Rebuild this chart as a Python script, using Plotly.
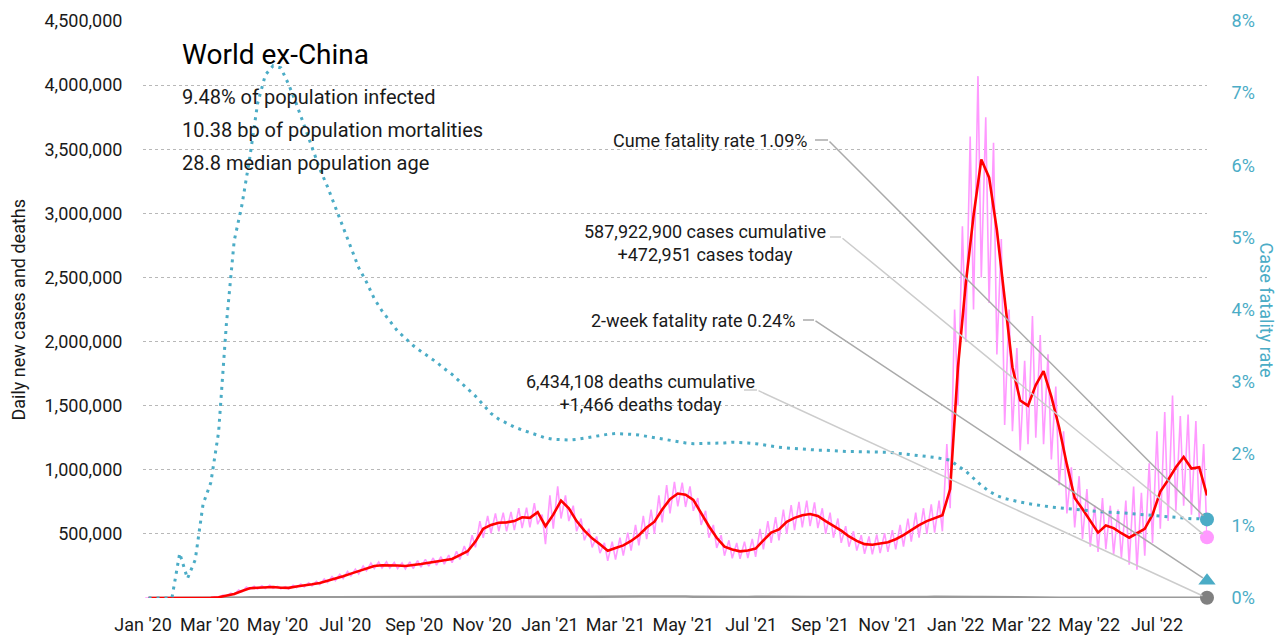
import pandas as pd
import plotly.graph_objects as go

# ---------------- data ----------------
week_start = "2020-01-06"
n_weeks = 137

# 7-day average of daily new cases, thousands (one value per week)
cases_avg_k = [
    0, 0, 0, 0, 0, 0, 0, 0, 2, 6, 17, 32, 55, 76, 80, 85,
    86, 80, 79, 90, 97, 107, 117, 133, 152, 170, 190, 208, 232, 250, 256, 257,
    253, 250, 255, 265, 275, 283, 295, 304, 335, 365, 440, 540, 570, 587, 590, 600,
    630, 625, 670, 560, 650, 760, 700, 600, 525, 465, 420, 368, 390, 410, 445, 490,
    550, 595, 690, 770, 815, 805, 765, 660, 560, 470, 400, 378, 364, 370, 385, 450,
    510, 535, 595, 625, 645, 655, 640, 600, 565, 525, 480, 445, 420, 415, 425, 435,
    458, 490, 530, 569, 600, 624, 645, 850, 1800, 2450, 2980, 3420, 3280, 2870, 2330, 1800,
    1540, 1500, 1660, 1770, 1570, 1330, 1040, 780, 694, 600, 510, 565, 545, 505, 470, 505,
    540, 650, 830, 920, 1020, 1100, 1010, 1020, 800,
]

# raw daily new cases: weekly high (mid-week) and low (week end), thousands
cases_hi_k = [
    0, 0, 0, 0, 0, 0, 0, 0, 3, 8, 22, 38, 62, 85, 92, 95,
    100, 90, 88, 100, 108, 118, 130, 148, 168, 185, 208, 225, 250, 272, 280, 282,
    278, 274, 282, 292, 302, 312, 322, 335, 365, 405, 490, 600, 640, 660, 665, 672,
    700, 705, 740, 650, 800, 870, 800, 720, 620, 540, 480, 430, 440, 470, 510, 570,
    640, 690, 800, 880, 905, 900, 870, 780, 680, 570, 490, 450, 430, 440, 460, 540,
    600, 630, 690, 725, 750, 760, 745, 700, 665, 620, 560, 520, 490, 480, 495, 505,
    530, 570, 620, 665, 700, 730, 760, 1200, 2250, 2900, 3600, 4070, 3750, 3550, 2800, 2250,
    1950, 1850, 2200, 2050, 1900, 1650, 1300, 1020, 950, 850, 720, 780, 720, 690, 760, 870,
    820, 1050, 1300, 1450, 1580, 1420, 1430, 1380, 1200,
]
cases_lo_k = [
    0, 0, 0, 0, 0, 0, 0, 0, 1, 4, 14, 27, 48, 68, 70, 75,
    76, 72, 70, 80, 86, 95, 104, 120, 136, 152, 172, 188, 212, 230, 234, 234,
    230, 226, 230, 240, 248, 256, 264, 275, 300, 330, 395, 470, 505, 520, 520, 530,
    545, 550, 575, 420, 540, 620, 600, 520, 450, 395, 350, 290, 300, 330, 370, 410,
    460, 500, 590, 660, 715, 710, 680, 570, 470, 390, 330, 310, 305, 312, 320, 380,
    430, 450, 500, 530, 550, 560, 545, 500, 470, 430, 400, 370, 345, 340, 350, 360,
    380, 400, 440, 470, 500, 510, 520, 700, 1500, 2000, 2250, 2500, 2300, 1900, 1350, 1300,
    1150, 1200, 1250, 1200, 1080, 880, 660, 550, 460, 400, 360, 380, 340, 310, 260, 220,
    330, 430, 540, 600, 680, 720, 650, 620, 473,
]

# daily deaths (7-day average), thousands
deaths_k = [
    0, 0, 0, 0, 0, 0, 0, 0, 0.05, 0.3, 1.0, 2.5, 4.5, 6.0, 6.5, 6.2,
    5.5, 5.0, 4.6, 4.4, 4.2, 4.3, 4.6, 4.9, 5.1, 5.4, 5.5, 5.8, 6.0, 6.0, 5.9, 5.8,
    5.5, 5.4, 5.3, 5.3, 5.5, 5.6, 5.8, 6.2, 7.0, 8.3, 9.5, 10.5, 11.2, 11.5, 11.5, 11.8,
    12.0, 11.5, 12.5, 13.5, 14.5, 14.0, 13.0, 12.0, 10.5, 9.5, 9.0, 8.8, 9.0, 9.8, 10.8, 11.8,
    12.5, 13.2, 13.8, 13.5, 12.5, 11.5, 10.5, 9.5, 9.0, 8.5, 8.0, 7.8, 8.0, 8.5, 9.3, 9.8,
    10.0, 10.2, 10.0, 9.5, 8.8, 8.0, 7.5, 7.2, 7.0, 7.0, 7.0, 7.2, 7.3, 7.2, 7.0, 6.8,
    6.5, 6.3, 6.5, 7.0, 8.0, 9.0, 10.0, 10.5, 10.2, 9.5, 8.5, 7.5, 6.5, 5.5, 4.8, 4.2,
    3.7, 3.4, 3.0, 2.8, 2.6, 2.4, 2.3, 2.2, 2.0, 1.9, 1.9, 2.0, 2.1, 2.2, 2.3, 2.4,
    2.4, 2.3, 2.2, 2.1, 2.1, 2.0, 2.0, 1.9, 1.5,
]

# cumulative case fatality rate, percent
cfr_pct = [
    0, 0, 0, 0, 0.62, 0.27, 0.53, 1.3, 1.6, 2.3, 3.8, 4.95, 5.45, 6.1, 6.85, 7.25,
    7.38, 7.35, 7.12, 6.85, 6.55, 6.25, 5.95, 5.7, 5.42, 5.15, 4.88, 4.58, 4.38, 4.15, 3.98, 3.84,
    3.7, 3.6, 3.5, 3.42, 3.35, 3.27, 3.18, 3.1, 3.0, 2.9, 2.8, 2.68, 2.56, 2.48, 2.42, 2.37,
    2.33, 2.29, 2.25, 2.22, 2.2, 2.19, 2.19, 2.2, 2.22, 2.24, 2.26, 2.27, 2.28, 2.28, 2.27, 2.26,
    2.24, 2.22, 2.2, 2.18, 2.16, 2.15, 2.14, 2.14, 2.14, 2.15, 2.15, 2.16, 2.16, 2.15, 2.14, 2.12,
    2.1, 2.09, 2.08, 2.07, 2.06, 2.06, 2.05, 2.05, 2.04, 2.04, 2.03, 2.03, 2.03, 2.02, 2.02, 2.02,
    2.01, 2.0, 1.99, 1.98, 1.97, 1.95, 1.93, 1.91, 1.83, 1.76, 1.66, 1.56, 1.48, 1.42, 1.38, 1.35,
    1.33, 1.31, 1.29, 1.28, 1.26, 1.25, 1.24, 1.23, 1.22, 1.21, 1.2, 1.19, 1.19, 1.18, 1.18, 1.17,
    1.16, 1.15, 1.14, 1.13, 1.12, 1.11, 1.1, 1.1, 1.09,
]

# latest-day figures
cume_cfr = 0.0109
two_week_cfr = 0.0024
cases_today = 472951
deaths_today = 1466
cases_cum = "587,922,900"
deaths_cum = "6,434,108"

title_text = "World ex-China"
sub_lines = ["9.48% of population infected",
             "10.38 bp of population mortalities",
             "28.8 median population age"]

left_ticks = [500000, 1000000, 1500000, 2000000, 2500000, 3000000, 3500000, 4000000, 4500000]
right_ticks = [0, 0.01, 0.02, 0.03, 0.04, 0.05, 0.06, 0.07, 0.08]

for arr in (cases_avg_k, cases_hi_k, cases_lo_k, deaths_k, cfr_pct):
    assert len(arr) == n_weeks, len(arr)

# ---------------- build series ----------------
weeks = pd.date_range(week_start, periods=n_weeks, freq="7D")
end_date = weeks[-1]
cases_avg = [v * 1000 for v in cases_avg_k]
deaths = [v * 1000 for v in deaths_k]
cfr = [v / 100 for v in cfr_pct]
pink_x, pink_y = [], []
for d, hi, lo in zip(weeks, cases_hi_k, cases_lo_k):
    pink_x += [d - pd.Timedelta(days=3), d]
    pink_y += [hi * 1000, lo * 1000]

FONT = "Roboto, Liberation Sans, Arial, sans-serif"
TEAL = "#4bacc6"
PINK = "#ff99ff"
TXT = "#1a1a1a"

# plot area in pixels
L, R, T, B = 143, 1207, 21, 598
YMAX, Y2MAX = 4500000, 0.08


def px(x):
    return (x - L) / (R - L)


def py(y):
    return (B - y) / (B - T)


fig = go.Figure()
fig.add_trace(go.Scatter(x=weeks, y=deaths, mode="lines",
                         line=dict(color="#9a9a9a", width=2.5), hoverinfo="skip"))
fig.add_trace(go.Scatter(x=pink_x, y=pink_y, mode="lines",
                         line=dict(color=PINK, width=1.6), hoverinfo="skip"))
fig.add_trace(go.Scatter(x=weeks, y=cases_avg, mode="lines",
                         line=dict(color="#ff0000", width=2.6), hoverinfo="skip"))
fig.add_trace(go.Scatter(x=weeks, y=cfr, mode="lines", yaxis="y2",
                         line=dict(color=TEAL, width=3, dash="3px,5px"), hoverinfo="skip"))

# end markers
fig.add_trace(go.Scatter(x=[end_date], y=[cases_today], mode="markers", cliponaxis=False,
                         marker=dict(color=PINK, size=14)))
fig.add_trace(go.Scatter(x=[end_date], y=[deaths_today], mode="markers", cliponaxis=False,
                         marker=dict(color="#808080", size=14)))
fig.add_trace(go.Scatter(x=[end_date], y=[cume_cfr], mode="markers", yaxis="y2", cliponaxis=False,
                         marker=dict(color=TEAL, size=14)))
fig.add_trace(go.Scatter(x=[end_date], y=[two_week_cfr], mode="markers", yaxis="y2", cliponaxis=False,
                         marker=dict(color=TEAL, size=15, symbol="triangle-up")))

annotations = []
shapes = []

annotations.append(dict(xref="paper", yref="paper", x=px(180), y=py(55), xanchor="left",
                        yanchor="middle", text=title_text, showarrow=False,
                        font=dict(family=FONT, size=28, color="#000")))
for i, line in enumerate(sub_lines):
    annotations.append(dict(xref="paper", yref="paper", x=px(180), y=py(97 + 33 * i),
                            xanchor="left", yanchor="middle", text=line, showarrow=False,
                            font=dict(family=FONT, size=20, color=TXT)))

# callouts: (text, anchor x px, y px, xanchor, stub start, stub end, stub y, target, axis, colour)
callouts = [
    ("Cume fatality rate 1.09%", 810, 140, "right", 815, 828, 140, cume_cfr, "y2", "#aaaaaa"),
    (f"{cases_cum} cases cumulative<br>+{cases_today:,} cases today", 705, 243, "center",
     830, 841, 237, cases_today, "y", "#cccccc"),
    ("2-week fatality rate 0.24%", 797, 320, "right", 803, 814, 320, two_week_cfr, "y2", "#aaaaaa"),
    (f"{deaths_cum} deaths cumulative<br>+{deaths_today:,} deaths today", 640, 393, "center",
     744, 757, 390, deaths_today, "y", "#cccccc"),
]
for text, tx, ty, xa, s0, s1, sy, val, ax_name, col in callouts:
    annotations.append(dict(xref="paper", yref="paper", x=px(tx), y=py(ty), xanchor=xa,
                            yanchor="middle", text=text, showarrow=False, align="center",
                            font=dict(family=FONT, size=18, color=TXT)))
    shapes.append(dict(type="line", xref="paper", yref="paper", x0=px(s0), x1=px(s1),
                       y0=py(sy), y1=py(sy), line=dict(color=col, width=1.5)))
    vmax = Y2MAX if ax_name == "y2" else YMAX
    marker_py = B - val / vmax * (B - T)
    annotations.append(dict(x=end_date, y=val, xref="x", yref=ax_name, text="",
                            showarrow=True, arrowhead=0, arrowwidth=1.5, arrowcolor=col,
                            ax=s1 - R, ay=sy - marker_py, standoff=5))

# axis titles
annotations.append(dict(xref="paper", yref="paper", x=px(18), y=0.5, text="Daily new cases and deaths",
                        textangle=-90, showarrow=False, xanchor="center", yanchor="middle",
                        font=dict(family=FONT, size=18, color=TXT)))
annotations.append(dict(xref="paper", yref="paper", x=px(1266), y=0.5, text="Case fatality rate",
                        textangle=90, showarrow=False, xanchor="center", yanchor="middle",
                        font=dict(family=FONT, size=18, color=TEAL)))

fig.update_layout(
    width=1287, height=637,
    margin=dict(l=L, r=1287 - R, t=T, b=637 - B),
    paper_bgcolor="white", plot_bgcolor="white",
    showlegend=False,
    font=dict(family=FONT, size=18, color=TXT),
    xaxis=dict(type="date", range=["2020-01-01", end_date], tick0="2020-01-01", dtick="M2",
               tickformat="%b '%y", tickangle=0, showgrid=False, zeroline=False, showline=False,
               automargin=False, ticks="outside", ticklen=10, tickcolor="rgba(0,0,0,0)",
               tickfont=dict(family=FONT, size=18, color=TXT)),
    yaxis=dict(range=[0, YMAX], tickvals=left_ticks, tickformat=",d", showgrid=True,
               gridcolor="#b8b8b8", griddash="dot", gridwidth=1, zeroline=False,
               automargin=False, ticks="outside", ticklen=16, tickcolor="rgba(0,0,0,0)",
               tickfont=dict(family=FONT, size=18, color=TXT)),
    yaxis2=dict(range=[0, Y2MAX], overlaying="y", side="right", tickvals=right_ticks,
                tickformat=".0%", showgrid=False, zeroline=False, automargin=False,
                ticks="outside", ticklen=20, tickcolor="rgba(0,0,0,0)",
                tickfont=dict(family=FONT, size=18, color=TEAL)),
    annotations=annotations,
    shapes=shapes,
)

fig.write_html("out.html", config={"displayModeBar": False, "staticPlot": True},
               post_script="document.body.style.margin='0';document.body.style.overflow='hidden';")
